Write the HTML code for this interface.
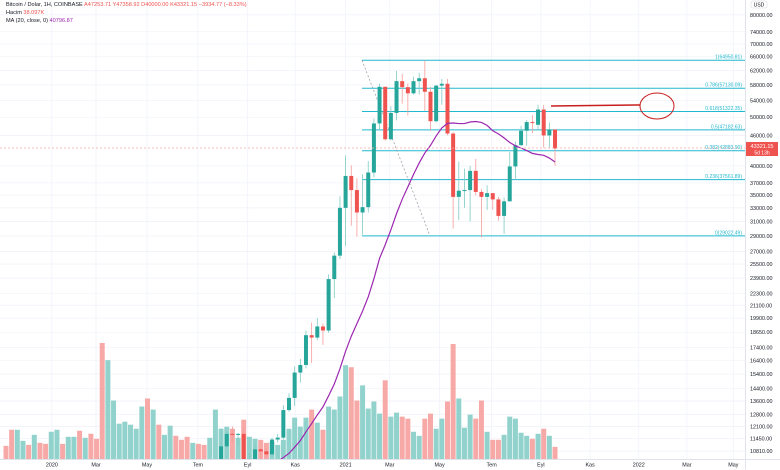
<!DOCTYPE html>
<html><head><meta charset="utf-8">
<style>
html,body{margin:0;padding:0;background:#fff;width:780px;height:470px;overflow:hidden;}
svg{display:block;vertical-align:top;overflow:hidden;font-family:"Liberation Sans",sans-serif;}
</style></head>
<body>
<svg id="chart" width="780" height="470" viewBox="0 0 780 470" xmlns="http://www.w3.org/2000/svg">
  <rect x="0" y="0" width="780" height="470" fill="#ffffff"/>
  <g id="grid"></g>
  <g id="fib"></g>
  <g id="vol" clip-path="url(#plotclip)"></g>
  <g id="candles" clip-path="url(#plotclip)"></g>
  <g id="ma" clip-path="url(#plotclip)"></g>
  <defs><clipPath id="plotclip"><rect x="0" y="0" width="745" height="459"/></clipPath></defs>
  <line x1="0" y1="148" x2="745" y2="148" stroke="#f7a9a7" stroke-width="0.7" stroke-dasharray="2,2"/>
  <line x1="551" y1="106" x2="640" y2="105" stroke="#c81e1e" stroke-width="1.5"/>
  <ellipse cx="657" cy="106" rx="17" ry="13" fill="none" stroke="#c81e1e" stroke-width="1"/>
  <line x1="745.5" y1="0" x2="745.5" y2="469.5" stroke="#e0e3eb" stroke-width="1"/>
  <line x1="0" y1="459.5" x2="780" y2="459.5" stroke="#e0e3eb" stroke-width="1"/>
  <g id="yaxis"></g>
  <g id="xaxis"></g>
  <g>
    <rect x="746" y="142" width="32" height="14" fill="#ef5350"/>
    <text x="762" y="148" font-size="5.5" fill="#fff" text-anchor="middle">43321.15</text>
    <text x="762" y="154.5" font-size="5" fill="#fff" text-anchor="middle">5d 13h</text>
  </g>
  <g>
    <rect x="751" y="1" width="16" height="7" rx="1.5" fill="#fff" stroke="#d1d4dc" stroke-width="0.5"/>
    <text x="759" y="6.5" font-size="5" fill="#131722" text-anchor="middle">USD</text>
  </g>
  <g font-size="5.6">
    <text x="6" y="6"><tspan fill="#131722">Bitcoin / Dolar, 1H, COINBASE </tspan><tspan fill="#ef5350"> A47253.71  Y47358.92  D40000.00  K43321.15  −3934.77 (−8.33%)</tspan></text>
    <text x="6" y="14"><tspan fill="#131722">Hacim </tspan><tspan fill="#ef5350">38.097K</tspan></text>
    <text x="6" y="22"><tspan fill="#131722">MA (20, close, 0) </tspan><tspan fill="#9c27b0">40796.87</tspan></text>
  </g>
</svg>
<script>
const opens = [9350,9040,7100,7050,7700,7100,7400,7500,7000,7700,9100,8500,8800,10100,9600,9950,9700,8500,5000,5400,5700,6200,6700,6900,7150,9200,8400,9900,8700,8900,9800,9600,9400,8900,9300,9400,9100,
9200,9950,11050,11700,11650,11700,10250,10300,10900,10800,10650,11400,11500,13050,13800,15500,16050,18400,18200,19150,18800,23800,26500,33000,38200,35800,32300,33100,38800,48600,57500,45200,51000,59000,57400,55800,59000,59800,56200,49100,57800,58300,46400,34700,35700,35800,39100,35500,34700,35300,34300,31800,34000,39900,44000,47000,48900,48300,51800,46000,47253];
const highs = [9500,9100,7700,7600,7800,7400,7500,7600,7500,8300,9200,8900,9400,10400,10000,10100,9800,8700,8100,6900,7000,7300,7450,7300,7800,9450,9000,10000,9900,9600,10400,10000,9600,9300,9450,9500,9350,
10000,12000,11800,12100,11750,12050,10700,11200,10950,10950,11500,11700,13350,14100,15950,16500,18800,19500,19900,19400,24300,26900,34800,41950,40100,37800,38500,40900,49700,58300,57500,52600,61800,61000,58400,60200,61300,64900,57500,58000,59600,59600,46700,40800,39500,40000,41300,36000,36600,35300,34700,34600,42600,44700,48100,49400,50500,52900,52900,48800,47358];
const lows = [8700,8450,6800,6500,7200,7050,6450,7100,6900,7650,8150,8250,8550,9700,9300,9400,8400,7800,3850,4500,5700,5850,6600,6500,6800,8500,8200,9200,8600,8700,9300,9200,9000,8900,9000,9050,9000,
9150,9900,11000,11200,11100,9900,9900,10250,10150,10400,10550,11250,11400,12950,13300,14800,15800,16200,18000,17600,18600,21800,26100,27700,30400,28900,29200,32300,38000,47100,44900,45000,49300,53200,50400,55500,55500,51500,47000,48800,53000,46000,30000,31200,33000,31000,34900,28800,32700,32700,31100,29300,34000,37500,43800,43900,46500,47000,43500,43500,40000];
const closes = [9040,8500,7300,7400,7500,7250,7150,7350,7200,8200,8900,8600,9300,9900,9900,9650,8550,8000,5350,5900,5900,6900,6900,7150,7700,8900,8700,9700,8900,9450,9700,9350,9300,9050,9100,9300,9200,
9950,11050,11700,11650,11700,10250,10300,10900,10800,10650,11400,11500,13050,13800,15500,16050,18400,18200,19150,18800,23800,26500,33000,38200,35800,32300,33100,38800,48600,57500,45200,51000,59000,57400,55800,59000,59800,56200,49100,57800,58300,46400,34700,35700,35800,39100,35500,34700,35300,34300,31800,34000,39900,44000,47000,48900,48800,51800,46000,47253,43321];
const volumes = [13,29,29,18,14,24,16,15,27,29,15,22,22,28,21,25,20,115,98,58,35,37,34,30,52,60,49,34,24,33,23,19,22,16,15,14,21,49,30,32,30,21,39,22,20,
19,16,17,14,19,30,41,32,41,49,36,29,52,49,62,93,91,58,
73,50,57,45,78,42,46,42,40,27,23,40,45,30,40,57,114,60,31,44,40,58,27,19,19,24,42,40,26,23,20,25,30,23,12];
const priceTicks = [80000,74000,70000,66000,62000,58000,54000,50000,46000,40000,37000,35000,33000,31000,29000,27000,25500,23900,22300,21100,19900,18650,17400,16400,15400,14400,13600,12800,12100,11450,10810];
const timeLabels = ["2020","Mar","May","Tem","Eyl","Kas","2021","Mar","May","Tem","Eyl","Kas","2022","Mar","May"];
const timeLabelWeeks = [8.1,15.9,24.9,33.9,42.7,51.1,60,67.8,76.6,85.8,94.5,103.2,111.8,120.3,128.5];
const fibLevels = ["1","0.786","0.618","0.5","0.382","0.236","0"];
const fibPrices = [64950.81,57130.09,51322.35,47182.63,42883.90,37561.89,29022.49];
const maPeriod = 20;

const NS = "http://www.w3.org/2000/svg";
const YMAX = 469;
function xScale(i){ return 6 + i*5.66; }
function yPrice(p){ return 236 - 218*Math.log(p/29000); }
function yVol(v){ return 459 - v*(116/115); }
function mk(tag, attrs, parent){
  const e = document.createElementNS(NS, tag);
  for (const k in attrs) e.setAttribute(k, attrs[k]);
  parent.appendChild(e); return e;
}
const grid = document.getElementById('grid');
const yaxis = document.getElementById('yaxis');
const xaxis = document.getElementById('xaxis');
priceTicks.forEach(function(p){
  const y = yPrice(p);
  const gl = mk('line', {x1:0, x2:745, y1:y, y2:y, stroke:'#f0f3fa', 'stroke-width':0.8}, grid);
  
  
  const t = mk('text', {x:750, y:y+2, 'font-size':5.4, fill:'#131722'}, yaxis);
  t.textContent = p.toFixed(2);
  
  
});
timeLabels.forEach(function(lbl, k){
  const x = xScale(timeLabelWeeks[k]);
  const gl = mk('line', {x1:x, x2:x, y1:0, y2:459, stroke:'#f0f3fa', 'stroke-width':0.8}, grid);
  
  
  const t = mk('text', {x:x, y:466.5, 'font-size':5.4, fill:'#131722', 'text-anchor':'middle'}, xaxis);
  t.textContent = lbl;
  
  
});
const fib = document.getElementById('fib');
fibLevels.forEach(function(lv, k){
  const y = yPrice(fibPrices[k]);
  const ln = mk('line', {x1:362, x2:745, y1:y, y2:y, stroke:'#22b8cf', 'stroke-width':1}, fib);
  
  
  const t = mk('text', {x:742, y:y-1.5, 'font-size':5, fill:'#22b8cf', 'text-anchor':'end'}, fib);
  t.textContent = lv + '(' + fibPrices[k].toFixed(2) + ')';
  
  
});
const trend = mk('line', {x1:362, y1:yPrice(fibPrices[0]), x2:430, y2:yPrice(fibPrices[6]), stroke:'#9598a1', 'stroke-width':0.7, 'stroke-dasharray':'2,2'}, fib);


const vol = document.getElementById('vol');
const cg = document.getElementById('candles');
for (let i = 0; i < closes.length; i++){
  const up = closes[i] >= opens[i];
  const x = xScale(i);
  const vb = mk('rect', {x:x-2.5, y:yVol(volumes[i]), width:5, height:459-yVol(volumes[i]), fill: up ? '#92d2cc' : '#f7a9a7'}, vol);
  
  
  const col = up ? '#26a69a' : '#ef5350';
  const yh = yPrice(highs[i]);
  if (yh >= YMAX) continue;
  const yl = Math.min(yPrice(lows[i]), YMAX);
  const wk = mk('line', {x1:x, x2:x, y1:yh, y2:yl, stroke: up ? '#7ccbc3' : '#f59c9a', 'stroke-width':0.8}, cg);
  
  
  const top = yPrice(Math.max(opens[i], closes[i]));
  if (top >= YMAX) continue;
  const bot = Math.min(yPrice(Math.min(opens[i], closes[i])), YMAX);
  const body = mk('rect', {x:x-2, y:top, width:4, height:Math.max(1, bot-top), fill:col}, cg);
  
  
}
let d = '';
for (let i = maPeriod-1; i < closes.length; i++){
  let s = 0;
  for (let j = i-maPeriod+1; j <= i; j++) s += closes[j];
  const m = s/maPeriod;
  const y = Math.min(yPrice(m), YMAX);
  d += (d ? 'L' : 'M') + xScale(i).toFixed(2) + ',' + y.toFixed(2);
}
const maPath = mk('path', {d:d, fill:'none', stroke:'#9c27b0', 'stroke-width':1.2}, document.getElementById('ma'));


</script>
</body></html>
